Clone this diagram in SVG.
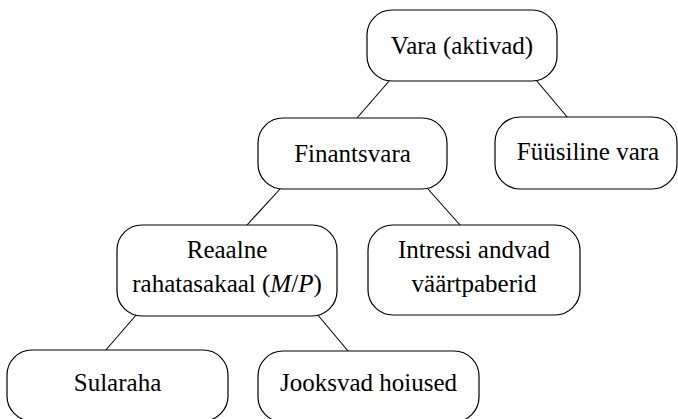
<svg xmlns="http://www.w3.org/2000/svg" width="678" height="419" viewBox="0 0 678 419">
  <style>
    .box { fill: #ffffff; stroke: #000000; stroke-width: 1.2; }
    .edge { stroke: #000000; stroke-width: 1.1; fill: none; }
  </style>
  <rect width="678" height="419" fill="#ffffff"/>

  <g id="connectors">
    <line class="edge" x1="390" y1="80" x2="357" y2="118"/>
    <line class="edge" x1="536" y1="80" x2="568" y2="118"/>
    <line class="edge" x1="280" y1="189" x2="247" y2="225"/>
    <line class="edge" x1="428" y1="189" x2="460" y2="225"/>
    <line class="edge" x1="137" y1="314" x2="105" y2="351"/>
    <line class="edge" x1="317" y1="314" x2="348" y2="351"/>
  </g>

  <g font-family="Liberation Serif, Times New Roman, serif" font-size="25" fill="#000000" text-anchor="middle">
    <g id="vara">
      <rect class="box" x="367" y="10" width="190" height="71" rx="25" ry="25"/>
      <text x="462" y="54">Vara (aktivad)</text>
    </g>

    <g id="finantsvara">
      <rect class="box" x="258" y="118" width="189" height="71" rx="25" ry="25"/>
      <text x="352.5" y="162">Finantsvara</text>
    </g>

    <g id="fyysiline-vara">
      <rect class="box" x="495" y="117" width="182" height="72" rx="25" ry="25"/>
      <text x="588" y="160">Füüsiline vara</text>
    </g>

    <g id="reaalne-rahatasakaal">
      <rect class="box" x="117" y="225" width="220" height="91" rx="25" ry="25"/>
      <text x="227" y="258">Reaalne</text>
      <text x="227" y="292">rahatasakaal (<tspan font-style="italic">M</tspan>/<tspan font-style="italic">P</tspan>)</text>
    </g>

    <g id="intressi-andvad">
      <rect class="box" x="368" y="225" width="212" height="90" rx="25" ry="25"/>
      <text x="474" y="258">Intressi andvad</text>
      <text x="474" y="292">väärtpaberid</text>
    </g>

    <g id="sularaha">
      <rect class="box" x="7" y="350" width="221" height="71" rx="25" ry="25"/>
      <text x="117.5" y="391">Sularaha</text>
    </g>

    <g id="jooksvad-hoiused">
      <rect class="box" x="258" y="351" width="221" height="71" rx="25" ry="25"/>
      <text x="368.5" y="391">Jooksvad hoiused</text>
    </g>
  </g>
</svg>
